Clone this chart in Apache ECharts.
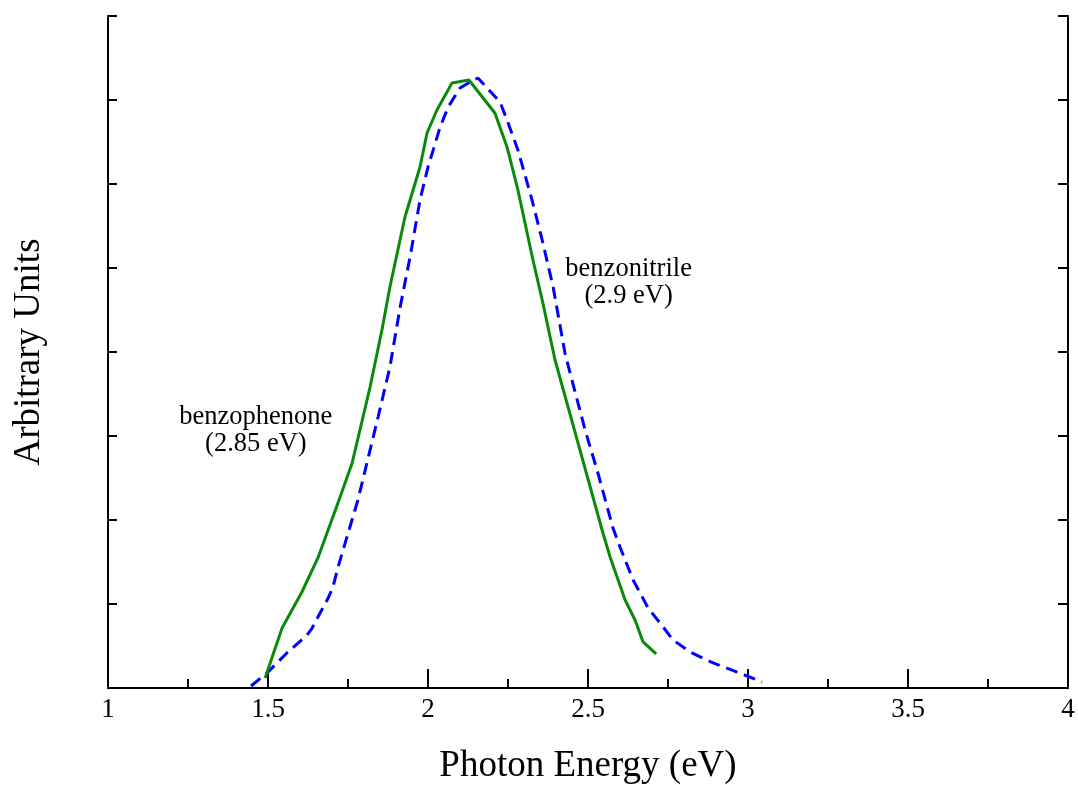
<!DOCTYPE html>
<html>
<head>
<meta charset="utf-8">
<script src="https://cdn.jsdelivr.net/npm/echarts@6/dist/echarts.min.js"></script>
<style>html,body{margin:0;padding:0;background:#fff}#c{width:1078px;height:785px}</style>
</head>
<body>
<div id="c"></div>
<script>
// Photon energy (eV) vs arbitrary intensity
const benzophenone = [
  [1.491,0.119],[1.544,0.714],[1.606,1.143],[1.656,1.548],[1.722,2.238],[1.763,2.679],
  [1.819,3.583],[1.856,4.262],[1.881,4.774],[1.928,5.607],[1.975,6.202],[1.997,6.607],
  [2.028,6.881],[2.075,7.202],[2.128,7.238],[2.209,6.845],[2.247,6.440],[2.281,5.929],
  [2.328,5.095],[2.359,4.583],[2.397,3.905],[2.475,2.833],[2.544,1.881],[2.569,1.560],
  [2.616,1.048],[2.647,0.810],[2.672,0.548],[2.713,0.405]
];
const benzonitrile = [
  [1.447,0.024],[1.497,0.179],[1.559,0.417],[1.622,0.631],[1.638,0.714],[1.656,0.845],
  [1.688,1.071],[1.703,1.202],[1.719,1.440],[1.781,2.238],[1.844,3.226],[1.881,3.821],
  [1.913,4.536],[1.944,5.131],[1.975,5.810],[2.000,6.202],[2.038,6.679],[2.063,6.917],
  [2.100,7.143],[2.131,7.214],[2.156,7.262],[2.225,6.976],[2.247,6.762],[2.281,6.405],
  [2.325,5.810],[2.359,5.298],[2.391,4.774],[2.428,3.988],[2.444,3.750],[2.491,3.071],
  [2.531,2.560],[2.578,1.905],[2.600,1.679],[2.641,1.286],[2.688,0.952],[2.725,0.774],
  [2.766,0.571],[2.819,0.429],[2.891,0.298],[2.966,0.190],[3.044,0.071]
];
const labelBenzophenone = ['benzophenone', '(2.85 eV)'];
const labelBenzonitrile = ['benzonitrile', '(2.9 eV)'];
const posBenzophenone = [1.462, 3.06];
const posBenzonitrile = [2.627, 4.83];
const xMin = 1, xMax = 4, xStep = 0.5;
const yMin = 0, yMax = 8, yStep = 1;

const FONT = "'Liberation Serif','Times New Roman',serif";
const chart = echarts.init(document.getElementById('c'), null, {renderer:'canvas'});
const axisLine = {show:true, lineStyle:{color:'#000', width:2}};
chart.setOption({
  animation:false,
  backgroundColor:'#fff',
  grid:{left:108, right:10, top:16, bottom:97, containLabel:false, outerBoundsMode:'none'},
  xAxis:[{
    type:'value', min:xMin, max:xMax, interval:xStep, position:'bottom',
    axisLine:axisLine,
    axisTick:{show:true, inside:true, length:19, lineStyle:{color:'#000', width:2}},
    minorTick:{show:true, splitNumber:2, length:9, lineStyle:{color:'#000', width:2}},
    splitLine:{show:false},
    axisLabel:{show:true, margin:8, color:'#000', fontFamily:FONT, fontSize:27,
      formatter:v=>String(+v.toFixed(2))},
    name:'Photon Energy (eV)', nameLocation:'middle', nameGap:60,
    nameTextStyle:{color:'#000', fontFamily:FONT, fontSize:37}
  },{
    type:'value', min:xMin, max:xMax, interval:xStep, position:'top',
    axisLine:axisLine, axisTick:{show:false}, axisLabel:{show:false}, splitLine:{show:false}
  }],
  yAxis:[{
    type:'value', min:yMin, max:yMax, interval:yStep, position:'left',
    axisLine:axisLine,
    axisTick:{show:true, inside:true, length:9, lineStyle:{color:'#000', width:2}},
    axisLabel:{show:false}, splitLine:{show:false},
    name:'Arbitrary Units', nameLocation:'middle', nameGap:60,
    nameTextStyle:{color:'#000', fontFamily:FONT, fontSize:37}
  },{
    type:'value', min:yMin, max:yMax, interval:yStep, position:'right',
    axisLine:axisLine,
    axisTick:{show:true, inside:true, length:10, lineStyle:{color:'#000', width:2}},
    axisLabel:{show:false}, splitLine:{show:false}
  }],
  series:[{
    name:'benzophenone', type:'line', data:benzophenone, showSymbol:false, symbol:'none',
    lineStyle:{color:'#0a8a0a', width:3}, z:3,
    markPoint:{symbol:'circle', symbolSize:0, silent:true,
      label:{show:true, position:'inside', color:'#000', fontFamily:FONT, fontSize:26.5, lineHeight:27, align:'center',
        formatter:labelBenzophenone.join('\n')},
      data:[{coord:posBenzophenone}]}
  },{
    name:'benzonitrile', type:'line', data:benzonitrile, showSymbol:false, symbol:'none',
    lineStyle:{color:'#0000ff', width:3, type:[12,7]}, z:2,
    markPoint:{symbol:'circle', symbolSize:0, silent:true,
      label:{show:true, position:'inside', color:'#000', fontFamily:FONT, fontSize:26.5, lineHeight:27, align:'center',
        formatter:labelBenzonitrile.join('\n')},
      data:[{coord:posBenzonitrile}]}
  }]
});
</script>
</body>
</html>
